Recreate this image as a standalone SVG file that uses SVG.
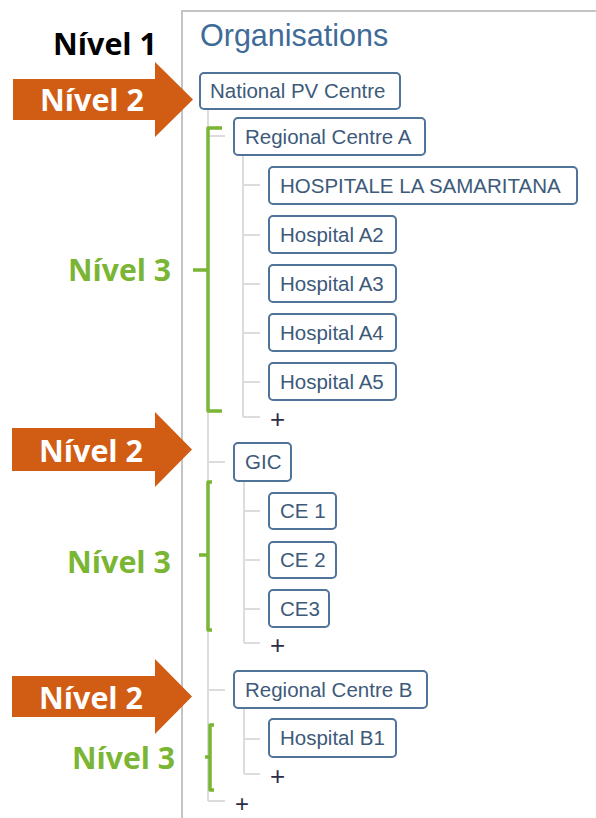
<svg xmlns="http://www.w3.org/2000/svg" width="596" height="818" viewBox="0 0 596 818">
<style>
.panel{fill:none;stroke:#c4c4c4;stroke-width:2}
.tree{fill:none;stroke:#dcdcdc;stroke-width:2}
.box rect{fill:#fff;stroke:#4f7399;stroke-width:2}
.box text{font-family:"Liberation Sans",Arial,sans-serif;font-size:20.5px;fill:#3d5a7a}
.plus{font-family:"Liberation Sans",Arial,sans-serif;font-size:26px;fill:#2e2c48}
.title{font-family:"Liberation Sans",Arial,sans-serif;font-size:30.5px;fill:#3f6b98}
.lvl{font-family:"Open Sans","Liberation Sans",sans-serif;font-weight:bold;font-size:31px}
.arrow{fill:#d15c14}
.brace{fill:none;stroke:#7ab533;stroke-width:3.5;stroke-linejoin:round}
</style>
<rect width="596" height="818" fill="#fff"/>
<path class="panel" d="M182,818 V11 H596"/>
<text class="title" x="200" y="46">Organisations</text>

<g id="connectors">
<path class="tree" d="M208,109 V801 M208,136 H225 M208,462 H225 M208,690 H225 M208,801 H225"/>
<path class="tree" d="M243,155 V417 M243,185 H260 M243,235 H260 M243,284 H260 M243,333 H260 M243,382 H260 M243,417 H260"/>
<path class="tree" d="M244,481 V643 M244,511 H260 M244,560 H260 M244,609 H260 M244,643 H260"/>
<path class="tree" d="M244,708 V774 M244,739 H260 M244,774 H260"/>
</g>

<g id="plus-signs">
<text class="plus" x="277.5" y="428" text-anchor="middle">+</text>
<text class="plus" x="277.5" y="654" text-anchor="middle">+</text>
<text class="plus" x="277.5" y="785" text-anchor="middle">+</text>
<text class="plus" x="242" y="812" text-anchor="middle" style="font-size:24px">+</text>
</g>

<g id="n-national" class="box"><rect x="200" y="73" width="200" height="36" rx="4"/><text x="210" y="98">National PV Centre</text></g>
<g id="n-rca" class="box"><rect x="234" y="118" width="191" height="37" rx="4"/><text x="245" y="144">Regional Centre A</text></g>
<g id="n-samaritana" class="box"><rect x="269" y="167" width="308" height="37" rx="4"/><text x="280" y="193">HOSPITALE LA SAMARITANA</text></g>
<g id="n-a2" class="box"><rect x="269" y="216" width="127" height="37" rx="4"/><text x="280" y="242">Hospital A2</text></g>
<g id="n-a3" class="box"><rect x="269" y="265" width="127" height="37" rx="4"/><text x="280" y="291">Hospital A3</text></g>
<g id="n-a4" class="box"><rect x="269" y="314" width="127" height="37" rx="4"/><text x="280" y="340">Hospital A4</text></g>
<g id="n-a5" class="box"><rect x="269" y="363" width="127" height="37" rx="4"/><text x="280" y="389">Hospital A5</text></g>
<g id="n-gic" class="box"><rect x="234" y="443" width="57" height="38" rx="4"/><text x="245" y="469">GIC</text></g>
<g id="n-ce1" class="box"><rect x="269" y="493" width="67" height="36" rx="4"/><text x="280" y="518">CE 1</text></g>
<g id="n-ce2" class="box"><rect x="269" y="542" width="67" height="36" rx="4"/><text x="280" y="567">CE 2</text></g>
<g id="n-ce3" class="box"><rect x="269" y="590" width="60" height="37" rx="4"/><text x="280" y="616">CE3</text></g>
<g id="n-rcb" class="box"><rect x="234" y="671" width="193" height="37" rx="4"/><text x="245" y="697">Regional Centre B</text></g>
<g id="n-b1" class="box"><rect x="269" y="719" width="127" height="38" rx="4"/><text x="280" y="745">Hospital B1</text></g>

<g id="level-annotations">
<text class="lvl" x="53" y="55" fill="#000" textLength="104" lengthAdjust="spacingAndGlyphs">Nível 1</text>
<polygon class="arrow" points="13,79 155,79 155,62 193,99.5 155,137 155,120 13,120"/>
<text class="lvl" x="40" y="111" fill="#fff" textLength="104" lengthAdjust="spacingAndGlyphs">Nível 2</text>
<polygon class="arrow" points="12,428 155,428 155,412 192,449.5 155,487 155,471 12,471"/>
<text class="lvl" x="39" y="462" fill="#fff" textLength="104" lengthAdjust="spacingAndGlyphs">Nível 2</text>
<polygon class="arrow" points="12,676 155,676 155,659 192,696.5 155,734 155,717 12,717"/>
<text class="lvl" x="39" y="709" fill="#fff" textLength="104" lengthAdjust="spacingAndGlyphs">Nível 2</text>
<path class="brace" d="M222,128 H208 V411 H222 M208,270 H193"/>
<text class="lvl" x="68" y="281" fill="#7ab533" textLength="103" lengthAdjust="spacingAndGlyphs">Nível 3</text>
<path class="brace" d="M212,482 H208 V630 H212 M208,555 H199"/>
<text class="lvl" x="67" y="573" fill="#7ab533" textLength="104" lengthAdjust="spacingAndGlyphs">Nível 3</text>
<path class="brace" d="M214,725 H210 V790 H214 M210,757 H205"/>
<text class="lvl" x="72" y="769" fill="#7ab533" textLength="103" lengthAdjust="spacingAndGlyphs">Nível 3</text>
</g>
</svg>
